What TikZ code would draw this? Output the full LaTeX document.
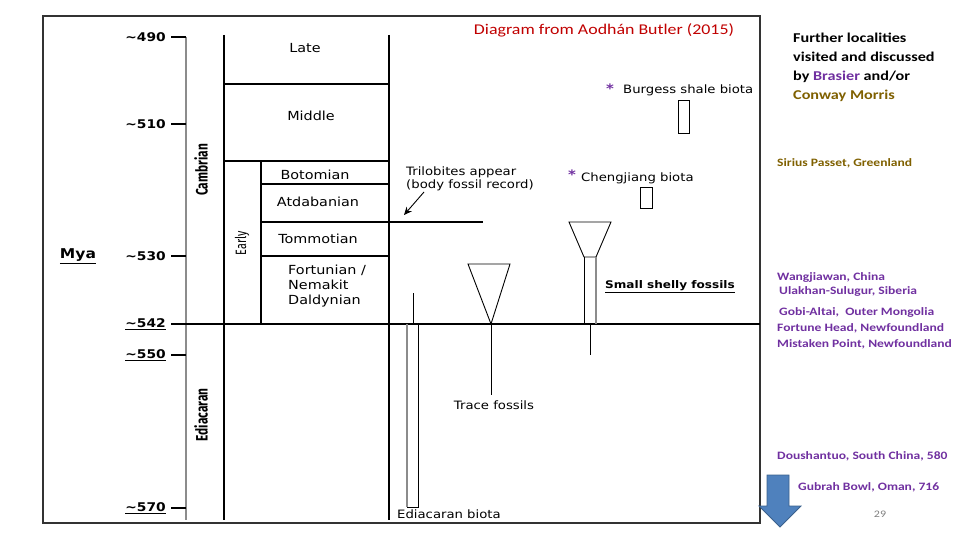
\documentclass[tikz,border=0pt]{standalone}
\usepackage{fontspec}
\setmainfont[FakeStretch=1.2]{Carlito}
\newfontfamily\chartfont[FakeStretch=1.15]{DejaVu Sans}
\newfontfamily\erafont[FakeStretch=0.72]{Fira Sans}
\usetikzlibrary{arrows.meta,calc}
\definecolor{sitepurple}{RGB}{112,48,160}
\definecolor{siteolive}{RGB}{127,96,0}
\definecolor{titlered}{RGB}{192,0,0}
\definecolor{arrowblue}{RGB}{79,129,189}
\definecolor{arrowedge}{RGB}{58,96,140}

\begin{document}
\begin{tikzpicture}[x=1pt, y=-1pt,
    tick/.style={anchor=east, inner sep=0pt, font=\chartfont\fontsize{12}{14}\selectfont\bfseries},
    stage/.style={inner sep=0pt, font=\chartfont\fontsize{12.5}{15}\selectfont},
    fossil/.style={inner sep=0pt, font=\chartfont\fontsize{11.5}{13}\selectfont},
    era/.style={rotate=90, inner sep=0pt, font=\erafont\fontsize{16.5}{18}\selectfont\bfseries},
    site/.style={anchor=west, inner sep=0pt, text=sitepurple, font=\fontsize{11.3}{13}\selectfont\bfseries},
    rule/.style={line width=1.1pt},
    greyrule/.style={line width=1.3pt, draw=black!45},
    biota/.style={line width=0.9pt}
]
\useasboundingbox (0,0) rectangle (960,540);

\draw[line width=1.4pt, draw=black!80] (43,16) rectangle (760,523);

% time axis
\draw[greyrule] (186,37) -- (186,520);
\foreach \ty/\tlab in {37/490, 124/510, 256/530}{
    \draw[line width=1.6pt] (171,\ty) -- (186,\ty);
    \node[tick] (mya\tlab) at (166,\ty) {\textasciitilde\tlab};
}
\foreach \ty/\tlab in {324/542, 355/550, 508/570}{
    \draw[line width=1.6pt] (171,\ty) -- (186,\ty);
    \node[tick] (mya\tlab) at (166,\ty) {\underline{\textasciitilde\tlab}};
}
\node[inner sep=0pt, font=\chartfont\fontsize{13.5}{15}\selectfont\bfseries] (myalabel) at (78,256) {\underline{Mya}};

\node[era] (cambrian) at (201,170) {Cambrian};
\node[era] (ediacaran) at (201,415) {Ediacaran};
\node[era, font=\erafont\fontsize{15}{17}\selectfont] (early) at (242,243) {Early};

% stage columns
\draw[rule] (224,35) -- (224,520);
\draw[rule] (389,35) -- (389,520);
\draw[rule] (224,84) -- (389,84);
\draw[rule] (224,161) -- (389,161);
\draw[rule] (261,161) -- (261,324);
\draw[rule] (261,184) -- (389,184);
\draw[rule] (261,222) -- (483,222);
\draw[rule] (261,256) -- (389,256);
\draw[rule] (186,324) -- (760,324);

\node[stage] (late) at (305,48) {Late};
\node[stage] (middle) at (311,116) {Middle};
\node[stage] (botomian) at (315,175) {Botomian};
\node[stage] (atdabanian) at (318,202) {Atdabanian};
\node[stage] (tommotian) at (318,239) {Tommotian};
\node[stage, anchor=north west, align=left] (fortunian) at (288,265) {Fortunian /\\Nemakit\\Daldynian};

% trilobites
\node[fossil, anchor=north west, align=left] (trilobites) at (406,167) {Trilobites appear\\(body fossil record)};
\coordinate (trilotail) at (424,192);
\coordinate (trilotip) at (404,215);
\draw[line width=0.9pt, -{Stealth[length=8pt,width=7pt]}] (trilotail) -- (trilotip);

% ediacaran biota
\draw[biota] (413,293) -- (413,324);
\draw[biota] (418,324) -- (418,507) -- (407,507);
\draw[greyrule, line width=1.1pt] (407,324) -- (407,507);
\node[fossil, anchor=west] (ediabiota) at (397,514) {Ediacaran biota};

% trace fossils
\draw[biota] (468,264) -- (510,264) -- (491,324) -- cycle;
\draw[biota] (491,324) -- (491,395);
\node[fossil] (trace) at (494,405) {Trace fossils};

% small shelly fossils
\draw[biota] (569,222) -- (611,222) -- (596,257) -- (584,257) -- cycle;
\draw[biota] (584,257) -- (584,324);
\draw[greyrule, line width=1.1pt] (596,257) -- (596,324);
\draw[biota] (590,324) -- (590,355);
\node[inner sep=0pt, font=\chartfont\fontsize{10.5}{13}\selectfont\bfseries] (shelly) at (670,287) {\underline{Small shelly fossils}};

% lagerstaetten
\node[inner sep=0pt, text=sitepurple, font=\chartfont\fontsize{13}{15}\selectfont\bfseries] (burgessstar) at (610,89) {*};
\node[fossil, anchor=west] (burgess) at (623,90) {Burgess shale biota};
\draw[biota] (678,100) rectangle (689,133);
\node[inner sep=0pt, text=sitepurple, font=\chartfont\fontsize{13}{15}\selectfont\bfseries] (chengstar) at (572,175) {*};
\node[fossil, anchor=west] (chengjiang) at (581,178) {Chengjiang biota};
\draw[biota] (640,187) rectangle (652,208);

\node[text=titlered, inner sep=0pt, font=\fontsize{14.9}{17}\selectfont] (title) at (604,30) {Diagram from Aodhán Butler (2015)};

% localities
\node[anchor=north west, align=left, inner sep=0pt, font=\fontsize{13.5}{19}\selectfont\bfseries] (further) at (793,33)
    {Further localities\\visited and discussed\\by \textcolor{sitepurple}{Brasier} and/or\\\textcolor{siteolive}{Conway Morris}};
\node[site, text=siteolive] (sirius) at (777,163) {Sirius Passet, Greenland};
\node[site] (wangjiawan) at (777,277) {Wangjiawan, China};
\node[site] (ulakhan) at (779,291) {Ulakhan-Sulugur, Siberia};
\node[site] (gobi) at (779,312) {Gobi-Altai,\ \ Outer Mongolia};
\node[site] (fortune) at (777,328) {Fortune Head, Newfoundland};
\node[site] (mistaken) at (777,344) {Mistaken Point, Newfoundland};
\node[site] (doushantuo) at (777,456) {Doushantuo, South China, 580};
\node[site] (gubrah) at (798,487) {Gubrah Bowl, Oman, 716};
\node[inner sep=0pt, text=black!50, font=\fontsize{10}{12}\selectfont] (pagenum) at (880,514) {29};

\draw[fill=arrowblue, draw=arrowedge, line width=0.8pt]
    (767,475) -- (789,475) -- (789,506) -- (801,506) -- (780,527) -- (759,506) -- (767,506) -- cycle;
\end{tikzpicture}
\end{document}
